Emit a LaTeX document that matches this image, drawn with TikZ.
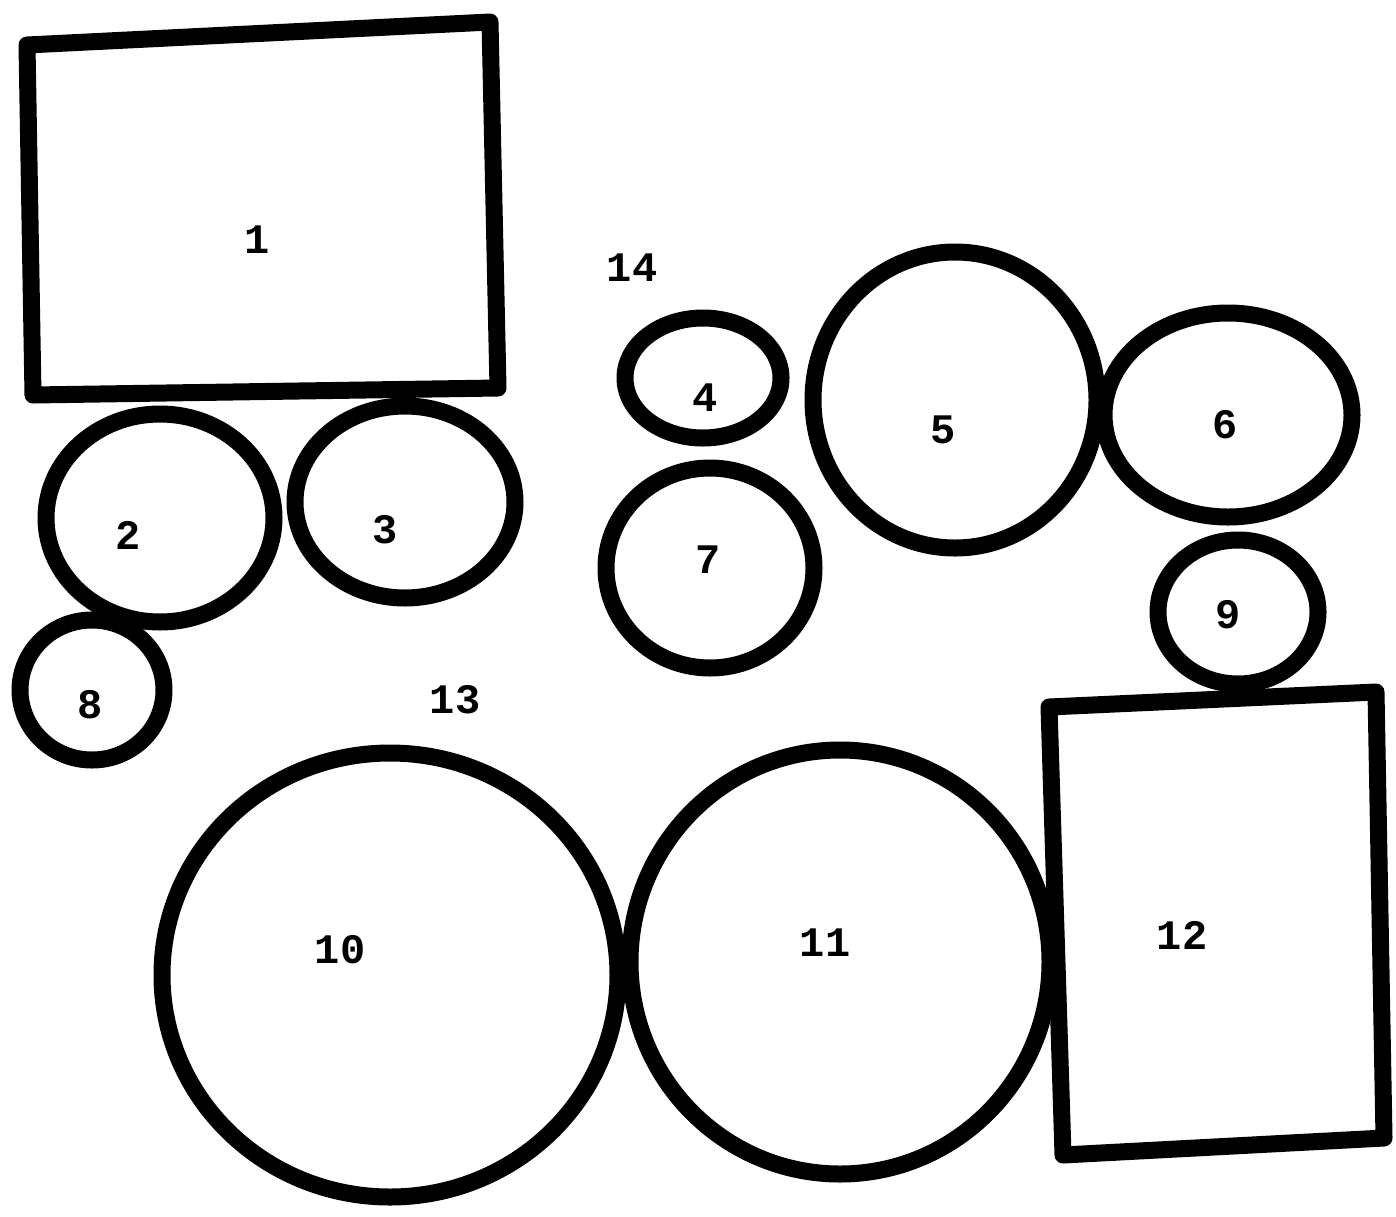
\documentclass[tikz,border=0pt]{standalone}
\usepackage{fontspec}
\newfontfamily\labfont{Liberation Mono}
\begin{document}
\begin{tikzpicture}[x=0.5pt,y=-0.5pt,
  blob/.style={draw=black,line width=8.5pt,line join=round,line cap=round},
  lab/.style={font=\labfont\bfseries\fontsize{21}{25}\selectfont,inner sep=0pt}]
\useasboundingbox (0,0) rectangle (1396,1216);
% rectangles
\draw[blob] (27,45) -- (490,22) -- (498,388) -- (33,395) -- cycle;
\draw[blob] (1049,707) -- (1376,692) -- (1384,1138) -- (1063,1155) -- cycle;
% circles
\draw[blob] (160,518) ellipse [x radius=114, y radius=104];
\draw[blob] (405,502) ellipse [x radius=110, y radius=96];
\draw[blob] (92,690) ellipse [x radius=72, y radius=70];
\draw[blob] (703,378) ellipse [x radius=78, y radius=60];
\draw[blob] (955,400) ellipse [x radius=142, y radius=148];
\draw[blob] (1228,415) ellipse [x radius=124, y radius=102];
\draw[blob] (710,568) ellipse [x radius=104, y radius=100];
\draw[blob] (1238,612) ellipse [x radius=80, y radius=72];
\draw[blob] (390,975) ellipse [x radius=228, y radius=222];
\draw[blob] (840,962) ellipse [x radius=210, y radius=212];
% labels
\node[lab] (l1) at (257,240) {1};
\node[lab] (l2) at (128,535) {2};
\node[lab] (l3) at (385,530) {3};
\node[lab] (l4) at (705,398) {4};
\node[lab] (l5) at (943,430) {5};
\node[lab] (l6) at (1225,425) {6};
\node[lab] (l7) at (708,560) {7};
\node[lab] (l8) at (90,705) {8};
\node[lab] (l9) at (1228,615) {9};
\node[lab] (l10) at (340,950) {10};
\node[lab] (l11) at (825,943) {11};
\node[lab] (l12) at (1182,935) {12};
\node[lab] (l13) at (455,700) {13};
\node[lab] (l14) at (632,268) {14};
\end{tikzpicture}
\end{document}
